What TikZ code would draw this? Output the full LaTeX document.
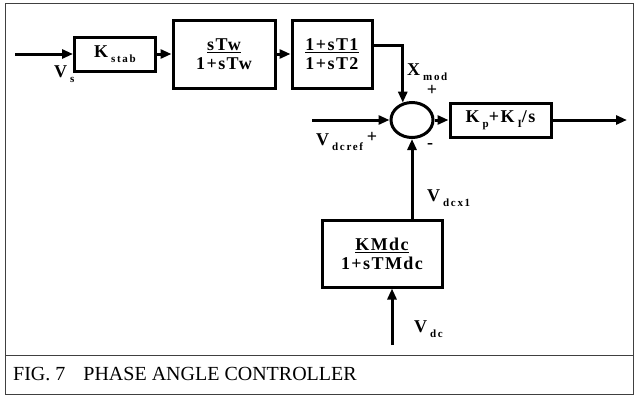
\documentclass[tikz,border=0pt]{standalone}
\usepackage{fontspec}
\setmainfont{Liberation Serif}
\newfontfamily\blkfont[LetterSpace=8]{Liberation Serif}
\usetikzlibrary{arrows.meta,shapes.geometric}
\newcommand{\vsub}[1]{\hspace{3pt}\raisebox{-5pt}{\fontsize{11}{12}\selectfont\addfontfeature{LetterSpace=15}#1}}

\begin{document}
\begin{tikzpicture}[x=1pt, y=-1pt, font=\blkfont\bfseries\fontsize{18}{21}\selectfont,
  blk/.style={draw, line width=3pt, inner sep=0pt, align=center},
  sig/.style={line width=3pt, -{Triangle[length=11pt,width=9pt]}},
  lbl/.style={anchor=west, inner sep=0pt}]
  \useasboundingbox (0,0) rectangle (635,397);
  % frame and caption
  \draw[line width=0.8pt, black!75] (5,3) rectangle (633,394);
  \draw[line width=0.8pt, black!75] (5,355) -- (633,355);
  \node[lbl, font=\fontsize{20}{24}\selectfont] (cap) at (13,374) {FIG. 7\hspace{18pt}PHASE ANGLE CONTROLLER};

  % blocks
  \node[blk, minimum width=81pt, minimum height=34pt] (kstab) at (115,54) {K\vsub{stab}};
  \node[blk, minimum width=102pt, minimum height=68pt] (wash) at (224,54) {\underline{sTw}\\[-2pt]1+sTw};
  \node[blk, minimum width=80pt, minimum height=68pt] (lead) at (332,54) {\underline{1+sT1}\\[-2pt]1+sT2};
  \node[draw, ellipse, line width=3pt, minimum width=42pt, minimum height=35pt, inner sep=0pt] (sum) at (412,120) {};
  \node[blk, minimum width=101pt, minimum height=34pt] (pi) at (500.5,120) {K\vsub{p}+K\vsub{I}/s};
  \node[blk, minimum width=120pt, minimum height=67pt] (filt) at (382,253.5) {\underline{KMdc}\\[-2pt]1+sTMdc};

  \coordinate (vsin) at (15,54);
  \coordinate (vref) at (312,120);
  \coordinate (out) at (627,120);
  \coordinate (vdc) at (392,345);

  % connectors
  \draw[sig] (vsin) -- (kstab);
  \draw[sig] (kstab) -- (wash);
  \draw[sig] (wash) -- (lead);
  \draw[sig] ([yshift=9pt]lead.east) -| (sum.118);
  \draw[sig] (vref) -- (sum.west);
  \draw[sig] (sum.east) -- (pi.west);
  \draw[sig] (pi.east) -- (out);
  \draw[sig] (sum.south |- filt.north) -- (sum.south);
  \draw[sig] (vdc) -- (vdc |- filt.south);

  % labels
  \node[lbl] (vs) at (54,74) {V\vsub{s}};
  \node[lbl] (xmod) at (407,72) {X\vsub{mod}};
  \node (xplus) at (432,90) {+};
  \node[lbl] (vdcref) at (316,142) {V\vsub{dcref}};
  \node (rplus) at (372,137) {+};
  \node (minus) at (430,146) {-};
  \node[lbl] (vdcx) at (427,198) {V\vsub{dcx1}};
  \node[lbl] (vdclbl) at (414,329) {V\vsub{dc}};
\end{tikzpicture}
\end{document}
